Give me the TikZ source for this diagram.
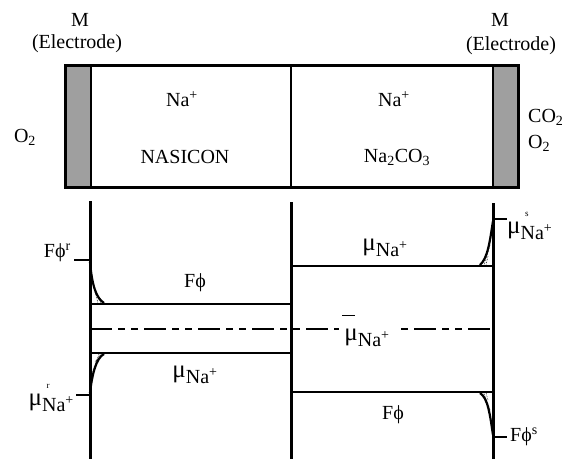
\documentclass[tikz,border=0pt]{standalone}
\usepackage{fontspec}
\setmainfont{Liberation Serif}
\newcommand{\muna}[1]{{\fontsize{25}{25}\selectfont μ}\rlap{\raisebox{1.9ex}{\fontsize{9}{9}\selectfont\hspace{0.5em}#1}}\raisebox{-0.7ex}{Na\textsuperscript{+}}}
\begin{document}
\begin{tikzpicture}[x=1pt,y=-1pt,
  lbl/.style={inner sep=1pt,font=\fontsize{20}{22}\selectfont},
  thickv/.style={line width=3pt},
  hline/.style={line width=1.8pt},
  tick/.style={line width=2.6pt},
  dashln/.style={line width=1.6pt,dash pattern=on 22pt off 6pt on 7pt off 6pt on 7pt off 6pt},
  curve/.style={line width=2.2pt},
  hatch/.style={line width=0.6pt,densely dotted}]
\useasboundingbox (0,0) rectangle (571,459);
% top box
\fill[gray!75] (65,65) rectangle (91,187);
\fill[gray!75] (493,65) rectangle (518,187);
\draw[line width=3pt] (65,65) rectangle (518,187);
\draw[line width=2.2pt] (91,65) -- (91,187);
\draw[line width=2.2pt] (493,65) -- (493,187);
\draw[line width=2.4pt] (291,65) -- (291,187);
\node[lbl] (mL) at (80,20) {M};
\node[lbl] (eL) at (77,44) {(Electrode)};
\node[lbl] (mR) at (500,20) {M};
\node[lbl] (eR) at (511,46) {(Electrode)};
\node[lbl] (o2L) at (25,137) {O\textsubscript{2}};
\node[lbl,anchor=west] (co2) at (527,117) {CO\textsubscript{2}};
\node[lbl,anchor=west] (o2R) at (527,143) {O\textsubscript{2}};
\node[lbl] (naL) at (182,99) {Na\textsuperscript{+}};
\node[lbl] (nasicon) at (185,157) {NASICON};
\node[lbl] (naR) at (394,99) {Na\textsuperscript{+}};
\node[lbl] (naco) at (397,157) {Na\textsubscript{2}CO\textsubscript{3}};
% lower diagram verticals
\coordinate (vLt) at (90,201); \coordinate (vLb) at (90,459);
\coordinate (vMt) at (291,202); \coordinate (vMb) at (291,459);
\coordinate (vRt) at (493,203); \coordinate (vRb) at (493,459);
\draw[thickv] (vLt) -- (vLb);
\draw[thickv] (vMt) -- (vMb);
\draw[thickv] (vRt) -- (vRb);
% left horizontals
\coordinate (a1) at (90,304); \coordinate (a2) at (291,304);
\coordinate (b1) at (90,353); \coordinate (b2) at (291,353);
\coordinate (c1) at (90,329); \coordinate (c2) at (493,329);
\draw[hline] (a1) -- (a2);
\draw[hline] (b1) -- (b2);
\draw[dashln] (c1) -- (c2);
% right horizontals
\coordinate (d1) at (291,266); \coordinate (d2) at (493,266);
\coordinate (e1) at (291,392); \coordinate (e2) at (493,392);
\draw[hline] (d1) -- (d2);
\draw[hline] (e1) -- (e2);
% ticks
\coordinate (t1a) at (74,260); \coordinate (t1b) at (90,260);
\coordinate (t2a) at (76,395); \coordinate (t2b) at (90,395);
\coordinate (t3a) at (493,219); \coordinate (t3b) at (507,219);
\coordinate (t4a) at (493,437); \coordinate (t4b) at (507,437);
\draw[tick] (t1a) -- (t1b);
\draw[tick] (t2a) -- (t2b);
\draw[tick] (t3a) -- (t3b);
\draw[tick] (t4a) -- (t4b);
% curves near electrodes
\draw[curve] (90,262) .. controls (92,285) and (96,298) .. (104,303);
\draw[hatch] (92,280) -- (98,303);
\draw[hatch] (95,292) -- (101,303);
\draw[curve] (90,393) .. controls (92,375) and (96,358) .. (104,354);
\draw[hatch] (92,373) -- (99,354);
\draw[hatch] (95,362) -- (101,354);
\draw[curve] (493,221) .. controls (490,240) and (488,258) .. (480,265);
\draw[hatch] (490,245) -- (484,265);
\draw[hatch] (488,256) -- (486,265);
\draw[curve] (493,435) .. controls (490,415) and (488,398) .. (480,393);
\draw[hatch] (490,410) -- (484,393);
\draw[hatch] (488,400) -- (486,393);
% labels
\node[lbl] (fphiL) at (195,283) {Fϕ};
\node[lbl] (muL) at (195,372) {\muna{}};
\node[lbl] (muR) at (385,245) {\muna{}};
\node[lbl,fill=white,inner xsep=5pt] (mubar) at (367,331) {\muna{}\llap{\rule[2.7ex]{0.62em}{0.9pt}\hspace{1.75em}}};
\node[lbl] (fphiR) at (393,415) {Fϕ};
\node[lbl,anchor=east] (fphir) at (72,253) {Fϕ\textsuperscript{r}};
\node[lbl,anchor=east] (mur) at (75,398) {\muna{r}};
\node[lbl,anchor=west] (mus) at (506,226) {\muna{s}};
\node[lbl,anchor=west] (fphis) at (509,437) {Fϕ\textsuperscript{s}};
\end{tikzpicture}
\end{document}
